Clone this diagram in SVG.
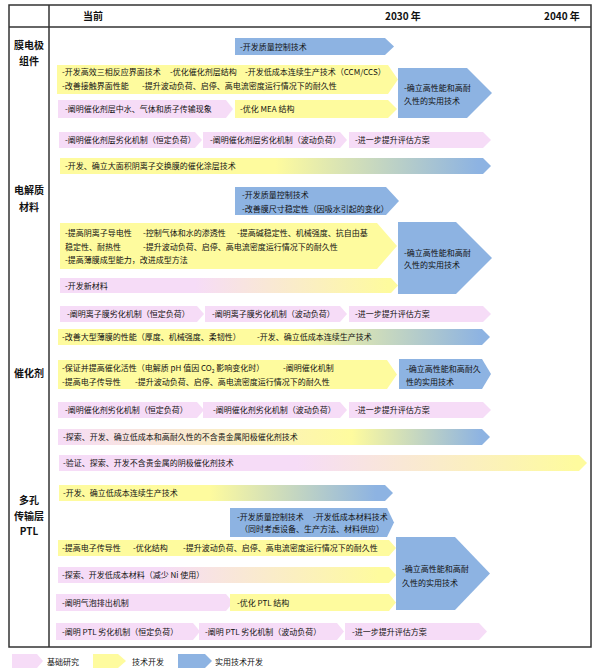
<svg xmlns="http://www.w3.org/2000/svg" width="600" height="672" viewBox="0 0 600 672">
<defs>
<style>
text{font-family:"Noto Sans CJK SC","Noto Sans",sans-serif;fill:#111}
.t{font-size:8px}
.h{font-size:10px;font-weight:bold}
.lab{font-size:10px;font-weight:bold;text-anchor:middle}
.pk{fill:#F6DCF7}
.yl{fill:#FEFB9E}
.bl{fill:#8DB3E2}
.frame{fill:none;stroke:#333;stroke-width:1.5}
</style>
<linearGradient id="gYB1" x1="0" y1="0" x2="1" y2="0"><stop offset="0.5" stop-color="#FEFB9E"/><stop offset="0.97" stop-color="#8DB3E2"/></linearGradient>
<linearGradient id="gYB2" x1="0" y1="0" x2="1" y2="0"><stop offset="0.55" stop-color="#FEFB9E"/><stop offset="0.98" stop-color="#8DB3E2"/></linearGradient>
<linearGradient id="gYB3" x1="0" y1="0" x2="1" y2="0"><stop offset="0.45" stop-color="#FEFB9E"/><stop offset="0.95" stop-color="#8DB3E2"/></linearGradient>
<linearGradient id="gPYB" x1="0" y1="0" x2="1" y2="0"><stop offset="0" stop-color="#F6DCF7"/><stop offset="0.68" stop-color="#FEFB9E"/><stop offset="0.98" stop-color="#8DB3E2"/></linearGradient>
<linearGradient id="gPY1" x1="0" y1="0" x2="1" y2="0"><stop offset="0.45" stop-color="#F6DCF7"/><stop offset="0.98" stop-color="#FEFB9E"/></linearGradient>
<linearGradient id="gPY2" x1="0" y1="0" x2="1" y2="0"><stop offset="0.4" stop-color="#F6DCF7"/><stop offset="0.97" stop-color="#FEFB9E"/></linearGradient>
<linearGradient id="gPY3" x1="0" y1="0" x2="1" y2="0"><stop offset="0.3" stop-color="#F6DCF7"/><stop offset="0.95" stop-color="#FEFB9E"/></linearGradient>
</defs>
<rect width="600" height="672" fill="#fff"/>

<g id="frame">
<rect class="frame" x="9" y="5" width="582" height="642"/>
<line x1="9" y1="27" x2="591" y2="27" stroke="#333" stroke-width="1.5"/>
<line x1="49" y1="5" x2="49" y2="647" stroke="#333" stroke-width="1.5"/>
</g>

<g id="header">
<text class="h" x="83" y="20">当前</text>
<text class="h" x="385" y="20">2030 年</text>
<text class="h" x="544" y="20">2040 年</text>
</g>

<g id="row-labels">
<text class="lab" x="29" y="49">膜电极</text>
<text class="lab" x="29" y="65">组件</text>
<text class="lab" x="29" y="194">电解质</text>
<text class="lab" x="29" y="211">材料</text>
<text class="lab" x="29" y="377">催化剂</text>
<text class="lab" x="29" y="504">多孔</text>
<text class="lab" x="29" y="520">传输层</text>
<text class="lab" x="29" y="535">PTL</text>
</g>

<g id="connectors"></g>

<!-- MEA -->
<g id="mea-qc">
<polygon class="bl" points="235,38 385,38 394,46.5 385,55 235,55"/>
<text class="t" x="240" y="50">-开发质量控制技术</text>
</g>
<g id="mea-tech">
<polygon class="yl" points="57,65 388,65 398,79.5 388,94 57,94"/>
<text class="t" y="75"><tspan x="62">-开发高效三相反应界面技术</tspan><tspan x="170">-优化催化剂层结构</tspan><tspan x="245">-开发低成本连续生产技术（CCM/CCS）</tspan></text>
<text class="t" y="89"><tspan x="62">-改善接触界面性能</tspan><tspan x="142">-提升波动负荷、启停、高电流密度运行情况下的耐久性</tspan></text>
</g>
<g id="mea-practical">
<polygon class="bl" points="398,68 467,68 492,93 467,118 398,118"/>
<text class="t" x="404" y="91">-确立高性能和高耐</text>
<text class="t" x="404" y="104">久性的实用技术</text>
</g>
<g id="mea-water">
<polygon class="pk" points="58,100 226,100 233,109 226,118 58,118"/>
<text class="t" x="65" y="112">-阐明催化剂层中水、气体和质子传输现象</text>
</g>
<g id="mea-structure">
<polygon class="yl" points="235,100 388,100 397,109 388,118 235,118"/>
<text class="t" x="240" y="112">-优化 MEA 结构</text>
</g>
<g id="mea-deg1">
<polygon class="pk" points="59,132 195,132 202,140 195,148 59,148"/>
<text class="t" x="65" y="143">-阐明催化剂层劣化机制（恒定负荷）</text>
</g>
<g id="mea-deg2">
<polygon class="pk" points="203,132 340,132 347,140 340,148 203,148"/>
<text class="t" x="210" y="143">-阐明催化剂层劣化机制（波动负荷）</text>
</g>
<g id="mea-deg3">
<polygon class="pk" points="349,132 483,132 491,140 483,148 349,148"/>
<text class="t" x="355" y="143">-进一步提升评估方案</text>
</g>
<g id="mea-coating">
<polygon fill="url(#gYB1)" points="60,158 483,158 491,166 483,174 60,174"/>
<text class="t" x="65" y="169">-开发、确立大面积阴离子交换膜的催化涂层技术</text>
</g>

<!-- Electrolyte -->
<g id="el-qc">
<polygon class="bl" points="235,187 386,187 399,201 386,215 235,215"/>
<text class="t" x="242" y="198">-开发质量控制技术</text>
<text class="t" x="242" y="212">-改善膜尺寸稳定性（因吸水引起的变化）</text>
</g>
<g id="el-tech">
<polygon class="yl" points="60,223 377,223 397,246 377,269 60,269"/>
<text class="t" y="236"><tspan x="65">-提高阴离子导电性</tspan><tspan x="143">-控制气体和水的渗透性</tspan><tspan x="237">-提高碱稳定性、机械强度、抗自由基</tspan></text>
<text class="t" y="250"><tspan x="65">稳定性、耐热性</tspan><tspan x="143">-提升波动负荷、启停、高电流密度运行情况下的耐久性</tspan></text>
<text class="t" x="65" y="263">-提高薄膜成型能力，改进成型方法</text>
</g>
<g id="el-practical">
<polygon class="bl" points="398,222 456,222 492,258 456,294 398,294"/>
<text class="t" x="404" y="256">-确立高性能和高耐</text>
<text class="t" x="404" y="268">久性的实用技术</text>
</g>
<g id="el-newmat">
<polygon fill="url(#gPY2)" points="60,278 391,278 398,285.5 391,293 60,293"/>
<text class="t" x="65" y="288.5">-开发新材料</text>
</g>
<g id="el-deg1">
<polygon class="pk" points="60,306 197,306 204,314 197,322 60,322"/>
<text class="t" x="67" y="317">-阐明离子膜劣化机制（恒定负荷）</text>
</g>
<g id="el-deg2">
<polygon class="pk" points="205,306 340,306 347,314 340,322 205,322"/>
<text class="t" x="212" y="317">-阐明离子膜劣化机制（波动负荷）</text>
</g>
<g id="el-deg3">
<polygon class="pk" points="349,306 483,306 491,314 483,322 349,322"/>
<text class="t" x="355" y="317">-进一步提升评估方案</text>
</g>
<g id="el-large">
<polygon fill="url(#gYB2)" points="58,329 482,329 490,337 482,345 58,345"/>
<text class="t" y="340"><tspan x="62">-改善大型薄膜的性能（厚度、机械强度、柔韧性）</tspan><tspan x="257">-开发、确立低成本连续生产技术</tspan></text>
</g>

<!-- Catalyst -->
<g id="cat-tech">
<polygon class="yl" points="58,360 387,360 397,374.5 387,389 58,389"/>
<text class="t" y="371"><tspan x="62">-保证并提高催化活性（电解质 pH 值因 CO</tspan><tspan font-size="5" dy="1.5">2</tspan><tspan dy="-1.5"> 影响变化时）</tspan><tspan x="283">-阐明催化机制</tspan></text>
<text class="t" y="385"><tspan x="62">-提高电子传导性</tspan><tspan x="135">-提升波动负荷、启停、高电流密度运行情况下的耐久性</tspan></text>
</g>
<g id="cat-practical">
<polygon class="bl" points="399,359 482,359 491,374 482,389 399,389"/>
<text class="t" x="406" y="372">-确立高性能和高耐久</text>
<text class="t" x="406" y="385">性的实用技术</text>
</g>
<g id="cat-deg1">
<polygon class="pk" points="58,402 197,402 204,410 197,418 58,418"/>
<text class="t" x="65" y="413">-阐明催化剂劣化机制（恒定负荷）</text>
</g>
<g id="cat-deg2">
<polygon class="pk" points="203,402 340,402 347,410 340,418 203,418"/>
<text class="t" x="213" y="413">-阐明催化剂劣化机制（波动负荷）</text>
</g>
<g id="cat-deg3">
<polygon class="pk" points="349,402 483,402 491,410 483,418 349,418"/>
<text class="t" x="355" y="413">-进一步提升评估方案</text>
</g>
<g id="cat-anode">
<polygon fill="url(#gPYB)" points="58,429 482,429 490,437 482,445 58,445"/>
<text class="t" x="63" y="440">-探索、开发、确立低成本和高耐久性的不含贵金属阳极催化剂技术</text>
</g>
<g id="cat-cathode">
<polygon fill="url(#gPY1)" points="59,455 579,455 587,463 579,471 59,471"/>
<text class="t" x="63" y="466">-验证、探索、开发不含贵金属的阴极催化剂技术</text>
</g>

<!-- PTL -->
<g id="ptl-prod">
<polygon fill="url(#gYB3)" points="59,485 385,485 393,493 385,501 59,501"/>
<text class="t" x="63" y="496">-开发、确立低成本连续生产技术</text>
</g>
<g id="ptl-qc">
<polygon class="bl" points="230,508 387,508 394,522.5 387,537 230,537"/>
<text class="t" y="520"><tspan x="237">-开发质量控制技术</tspan><tspan x="313">-开发低成本材料技术</tspan></text>
<text class="t" x="240" y="532">（同时考虑设备、生产方法、材料供应）</text>
</g>
<g id="ptl-tech">
<polygon class="yl" points="58,540 389,540 396,548 389,556 58,556"/>
<text class="t" y="551"><tspan x="62">-提高电子传导性</tspan><tspan x="133">-优化结构</tspan><tspan x="183">-提升波动负荷、启停、高电流密度运行情况下的耐久性</tspan></text>
</g>
<g id="ptl-practical">
<polygon class="bl" points="396,537 455,537 490,573.5 455,610 396,610"/>
<text class="t" x="402" y="572">-确立高性能和高耐</text>
<text class="t" x="402" y="586">久性的实用技术</text>
</g>
<g id="ptl-material">
<polygon fill="url(#gPY3)" points="58,567 389,567 396,575 389,583 58,583"/>
<text class="t" x="62" y="578">-探索、开发低成本材料（减少 Ni 使用）</text>
</g>
<g id="ptl-bubble">
<polygon class="pk" points="56,594 226,594 233,602.5 226,611 56,611"/>
<text class="t" x="62" y="605.5">-阐明气泡排出机制</text>
</g>
<g id="ptl-structure">
<polygon class="yl" points="230,594 389,594 396,602.5 389,611 230,611"/>
<text class="t" x="237" y="605.5">-优化 PTL 结构</text>
</g>
<g id="ptl-deg1">
<polygon class="pk" points="56,623 193,623 200,631.5 193,640 56,640"/>
<text class="t" x="62" y="634.5">-阐明 PTL 劣化机制（恒定负荷）</text>
</g>
<g id="ptl-deg2">
<polygon class="pk" points="199,623 337,623 344,631.5 337,640 199,640"/>
<text class="t" x="205" y="634.5">-阐明 PTL 劣化机制（波动负荷）</text>
</g>
<g id="ptl-deg3">
<polygon class="pk" points="345,623 479,623 487,631.5 479,640 345,640"/>
<text class="t" x="352" y="634.5">-进一步提升评估方案</text>
</g>

<!-- Legend -->
<g id="legend">
<polygon class="pk" points="12,654 37,654 43,661 37,668 12,668"/>
<text class="t" x="47" y="665">基础研究</text>
<polygon class="yl" points="93,654 118,654 126,661 118,668 93,668"/>
<text class="t" x="132" y="665">技术开发</text>
<polygon class="bl" points="178,654 205,654 212,661 205,668 178,668"/>
<text class="t" x="215" y="665">实用技术开发</text>
</g>
</svg>
